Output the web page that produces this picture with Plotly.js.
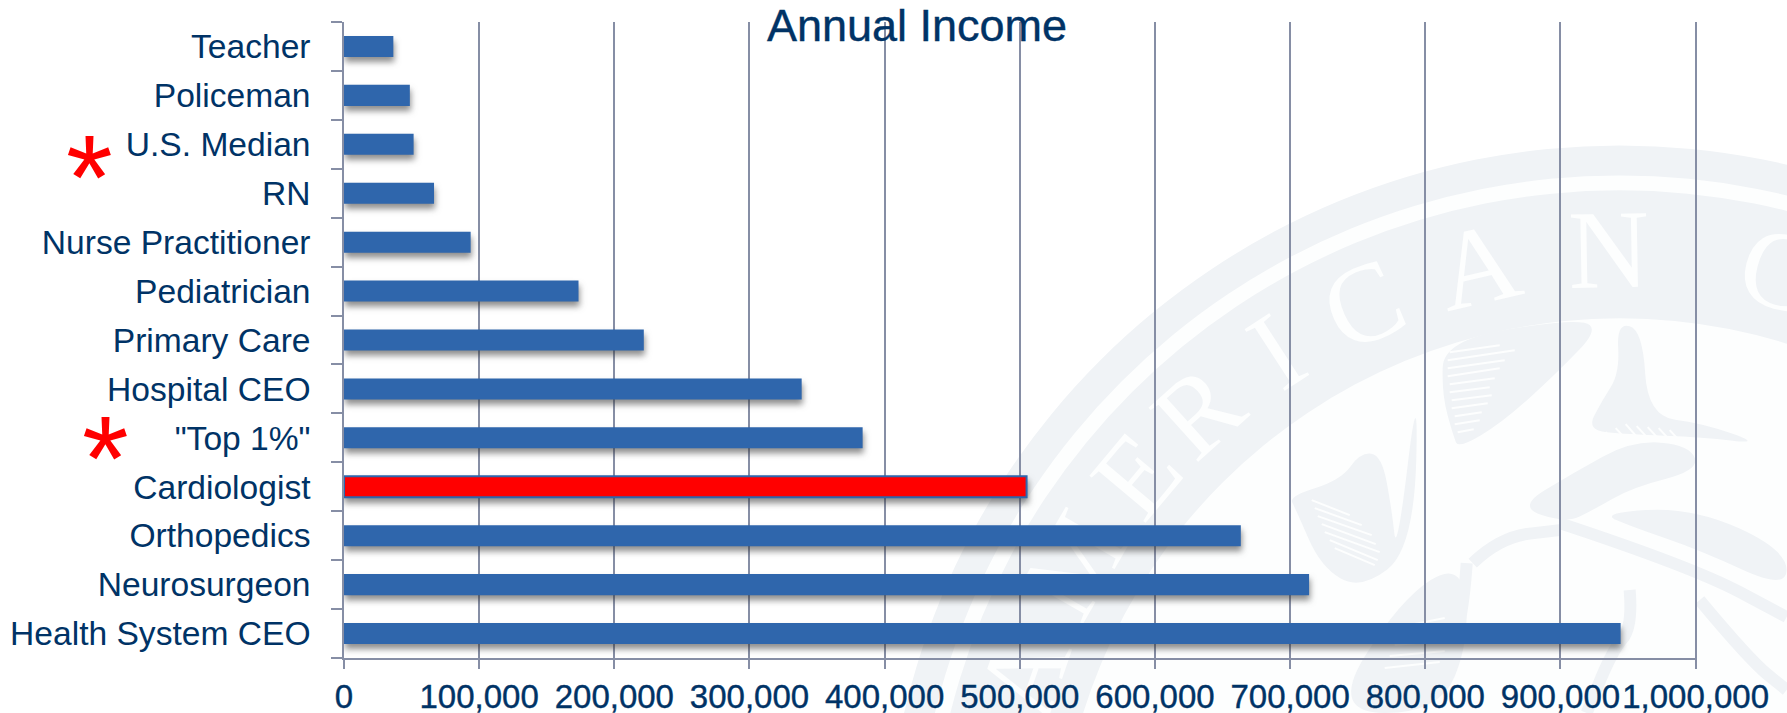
<!DOCTYPE html>
<html>
<head>
<meta charset="utf-8">
<script src="https://cdn.plot.ly/plotly-3.0.1.min.js"></script>
<style>
html,body{margin:0;padding:0;background:#fff}
#chart{width:1787px;height:713px}
.barlayer .point path{filter:drop-shadow(1px 5px 3px rgba(50,50,50,.55))}
.xtick text,.gtitle{stroke:#003366;stroke-width:.4px}
</style>
</head>
<body>
<div id="chart"></div>
<script>
const categories = ["Health System CEO","Neurosurgeon","Orthopedics","Cardiologist","\"Top 1%\"","Hospital CEO","Primary Care","Pediatrician","Nurse Practitioner","RN","U.S. Median","Policeman","Teacher"];
const income = [944500,714000,663500,505000,383700,338600,221800,173500,93700,66600,51500,48700,36500];
const highlighted = "Cardiologist";
const flagged = ["U.S. Median","\"Top 1%\""];
const xTicks = [0,100000,200000,300000,400000,500000,600000,700000,800000,900000,1000000];
const xTickLabels = ["0","100,000","200,000","300,000","400,000","500,000","600,000","700,000","800,000","900,000","1,000,000"];

const navy = "#003366", axisGrey = "#868EA5";
const textFont = "Liberation Sans, sans-serif";

// Plot box in page pixels; ornament geometry below is laid out in the same units.
const box = {l: 344, t: 21.5, r: 1697.35, b: 658};
const fx = px => (px - box.l) / (box.r - box.l);
const fy = py => (box.b - py) / (box.b - box.t);

// College seal behind the chart: concentric bands, lettering and a stylised eagle.
const sealCx = 1620, sealCy = 880, letterRadius = 643;
const sealTint = "#F0F3F6", sealLight = "#FDFEFE";
const disc = (r, fill) => ({
  type: "circle", layer: "below", xref: "paper", yref: "paper",
  x0: fx(sealCx - r), x1: fx(sealCx + r), y0: fy(sealCy + r), y1: fy(sealCy - r),
  fillcolor: fill, line: {width: 0}
});
const sealLetters = [["A",-71],["M",-60],["E",-50],["R",-42],["I",-33],["C",-24],["A",-13],["N",-1],["C",14.6]];
const letterShape = ([ch, deg]) => {
  const a = deg * Math.PI / 180;
  const x = sealCx + letterRadius * Math.sin(a), y = sealCy - letterRadius * Math.cos(a);
  return {
    type: "rect", layer: "below", xref: "paper", yref: "paper",
    x0: fx(x - 2), x1: fx(x + 2), y0: fy(y + 2), y1: fy(y - 2),
    fillcolor: "rgba(0,0,0,0)", line: {width: 0},
    label: {text: ch, textangle: deg, textposition: "middle center",
            font: {family: "Liberation Serif", size: 112, color: sealLight}}
  };
};
// Rounded outlines: each vertex becomes a quadratic control point between edge midpoints.
const pt = p => fx(p[0]) + "," + fy(p[1]);
const mid = (a, b) => [(a[0] + b[0]) / 2, (a[1] + b[1]) / 2];
const roundedLoop = pts => {
  const n = pts.length;
  let d = "M" + pt(mid(pts[n - 1], pts[0]));
  pts.forEach((p, i) => { d += " Q" + pt(p) + " " + pt(mid(p, pts[(i + 1) % n])); });
  return d + " Z";
};
const roundedOpen = pts => {
  let d = "M" + pt(pts[0]);
  for (let i = 1; i < pts.length - 1; i++) d += " Q" + pt(pts[i]) + " " + pt(mid(pts[i], pts[i + 1]));
  return d + " L" + pt(pts[pts.length - 1]);
};
const filled = (pts, fill) => ({
  type: "path", layer: "below", xref: "paper", yref: "paper",
  path: roundedLoop(pts), fillcolor: fill, line: {width: 0}
});
const stroked = (pts, color, w) => ({
  type: "path", layer: "below", xref: "paper", yref: "paper",
  path: roundedOpen(pts), line: {color: color, width: w}
});
const eagleFills = [
  [[1419,373],[1414,549],[1361,590],[1321,567],[1296,509],[1289,496],[1341,480],[1361,452],[1382,455],[1392,509],[1397,556]],
  [[1444,340],[1567,319],[1602,326],[1557,373],[1502,423],[1459,448],[1454,437],[1442,394]],
  [[1587,430],[1602,401],[1620,373],[1617,322],[1643,330],[1648,416],[1703,423],[1763,444],[1703,437],[1627,434]],
  [[1517,507],[1573,473],[1633,440],[1690,445],[1700,470],[1633,487],[1593,510],[1567,523]],
  [[1600,513],[1693,507],[1787,550],[1787,590],[1700,550],[1633,527]],
  [[1400,600],[1462,560],[1470,640],[1440,713],[1330,713]]
];
const eagleLines = [
  [[1560,523],[1693,567],[1787,617]],
  [[1630,590],[1633,627],[1613,650],[1587,713]],
  [[1473,563],[1500,537],[1560,530]],
  [[1467,563],[1463,623],[1440,680]],
  [[1700,600],[1750,660],[1787,690]]
];
const featherLines = [
  [[1450,352],[1500,345]],[[1448,360],[1515,350]],[[1448,368],[1505,360]],[[1448,376],[1500,368]],
  [[1450,384],[1495,378]],[[1450,392],[1490,387]],[[1452,400],[1492,395]],[[1452,408],[1488,403]],
  [[1455,416],[1482,412]],[[1455,424],[1480,420]],[[1458,432],[1474,429]],
  [[1312,500],[1350,515]],[[1315,508],[1362,525]],[[1318,516],[1372,535]],[[1322,524],[1376,544]],
  [[1325,532],[1380,552]],[[1330,540],[1378,560]],[[1335,548],[1375,565]],
  [[1606,432],[1620,447]],[[1616,428],[1630,443]],[[1626,424],[1640,440]],[[1637,426],[1651,441]],
  [[1648,427],[1662,442]],[[1659,428],[1673,443]],[[1670,430],[1684,445]],
  [[1410,625],[1445,618]],[[1400,635],[1448,629]],[[1395,645],[1450,640]],[[1390,656],[1445,651]],[[1385,668],[1440,662]]
];
const sealShapes = [
  disc(735, sealTint), disc(705, sealLight), disc(690, sealTint), disc(562, sealLight),
  ...sealLetters.map(letterShape),
  ...eagleFills.map(p => filled(p, sealTint)),
  ...eagleLines.map(p => stroked(p, sealTint, 12)),
  ...featherLines.map(p => stroked(p, sealLight, 2))
];

// Asterisk offsets per flagged row, in pixels relative to the row centre.
const starOffset = [{x: 64, y: -33}, {x: 80, y: -20}];

Plotly.newPlot("chart", [{
  type: "bar", orientation: "h",
  y: categories, x: income,
  marker: {
    color: categories.map(c => c === highlighted ? "#FF0000" : "#2F66AC"),
    line: {color: "#2F66AC", width: categories.map(c => c === highlighted ? 2 : 0)}
  },
  hoverinfo: "x+y"
}], {
  width: 1787, height: 713,
  margin: {l: box.l, r: 1787 - box.r, t: box.t, b: 713 - box.b, pad: 0},
  paper_bgcolor: "#fff", plot_bgcolor: "rgba(0,0,0,0)",
  bargap: 0.57, showlegend: false,
  title: {text: "Annual Income", font: {family: textFont, size: 45, color: navy}, x: 917/1787, xanchor: "center", y: 0.965, yanchor: "middle"},
  xaxis: {
    range: [0,1001000], tickvals: xTicks, ticktext: xTickLabels,
    ticks: "outside", ticklen: 9, tickwidth: 1.5, tickcolor: axisGrey,
    showgrid: true, gridcolor: axisGrey, gridwidth: 1.5,
    showline: true, linecolor: axisGrey, linewidth: 1.5, zeroline: false,
    tickfont: {family: textFont, size: 33, color: navy}
  },
  yaxis: {
    type: "category", categoryorder: "array", categoryarray: categories,
    ticks: "outside", tickson: "boundaries", ticklen: 11, tickwidth: 1.5, tickcolor: axisGrey,
    ticklabelstandoff: 25,
    showgrid: false, showline: true, linecolor: axisGrey, linewidth: 1.5, zeroline: false,
    tickfont: {family: textFont, size: 33.6, color: navy}
  },
  shapes: sealShapes,
  annotations: flagged.map((c, i) => ({
    xref: "paper", yref: "y", x: fx(starOffset[i].x), y: c,
    text: "*", showarrow: false, yshift: starOffset[i].y,
    font: {family: "Liberation Sans", size: 120, color: "#FF0000"}
  }))
}, {displayModeBar: false});
</script>
</body>
</html>
